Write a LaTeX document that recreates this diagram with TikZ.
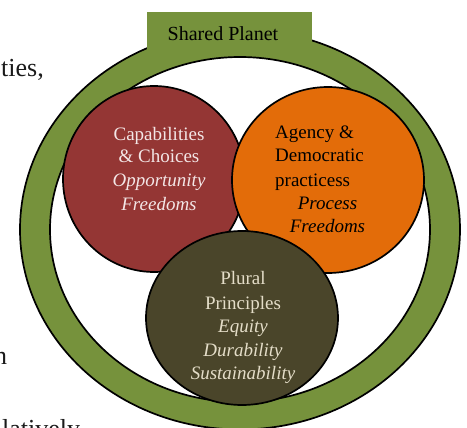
\documentclass[tikz,border=0pt]{standalone}
\usepackage{fontspec}
\setmainfont{Liberation Serif}
\definecolor{ringgreen}{HTML}{76923C}
\definecolor{capred}{HTML}{943634}
\definecolor{agorange}{HTML}{E36C09}
\definecolor{plurdark}{HTML}{4A452A}
\definecolor{plurtext}{HTML}{E4DDC8}
\definecolor{captext}{HTML}{F3E6E6}
\definecolor{bodytext}{HTML}{1A1A1A}
\tikzset{
  shapeline/.style={draw=black, line width=1.7pt},
  lbl/.style={inner sep=0pt, anchor=base, font=\fontsize{19}{23}\selectfont},
  lblw/.style={inner sep=0pt, anchor=base west, font=\fontsize{19}{23}\selectfont},
  bodytxt/.style={inner sep=0pt, text=bodytext, font=\fontsize{26}{30}\selectfont}
}
\begin{document}
\begin{tikzpicture}[x=1pt,y=-1pt]
\useasboundingbox (0,0) rectangle (467,428);
\clip (0,0) rectangle (467,428);
% surrounding body text fragments
\node[bodytxt, anchor=base east] (ties) at (44,77) {ties,};
\node[bodytxt, anchor=base west] (enn) at (-6,365) {n};
\node[bodytxt, anchor=base west] (lat) at (2,437) {latively};
% ring
\path[fill=ringgreen, shapeline, even odd rule]
  (240,229.5) ellipse [x radius=220, y radius=200]
  (240,229.5) ellipse [x radius=190, y radius=172.5];
% tab
\fill[ringgreen] (147,12) rectangle (312,54);
\node[lbl, text=black, font=\fontsize{20}{24}\selectfont] (shared) at (223,41) {Shared Planet};
% circles
\path[fill=capred, shapeline] (154,179) ellipse [x radius=91, y radius=93];
\path[fill=agorange, shapeline] (328,180) ellipse [x radius=96, y radius=93];
\path[fill=plurdark, shapeline] (242,318) ellipse [x radius=96, y radius=87];
% red texts
\node[lbl, text=captext] (c1) at (159,141) {Capabilities};
\node[lbl, text=captext] (c2) at (159,163) {\& Choices};
\node[lbl, text=captext] (c3) at (159,187) {\itshape Opportunity};
\node[lbl, text=captext] (c4) at (159,211) {\itshape Freedoms};
% orange texts
\node[lblw, text=black] (a1) at (275,139) {Agency \&};
\node[lblw, text=black] (a2) at (275,162) {Democratic};
\node[lblw, text=black] (a3) at (275,186) {practicess};
\node[lbl, text=black] (a4) at (327.5,210) {\itshape Process};
\node[lbl, text=black] (a5) at (327.5,233) {\itshape Freedoms};
% dark texts
\node[lbl, text=plurtext] (p1) at (243,285) {Plural};
\node[lbl, text=plurtext] (p2) at (243,309) {Principles};
\node[lbl, text=plurtext] (p3) at (243,332) {\itshape Equity};
\node[lbl, text=plurtext] (p4) at (243,356) {\itshape Durability};
\node[lbl, text=plurtext] (p5) at (243,380) {\itshape Sustainability};
\end{tikzpicture}
\end{document}
